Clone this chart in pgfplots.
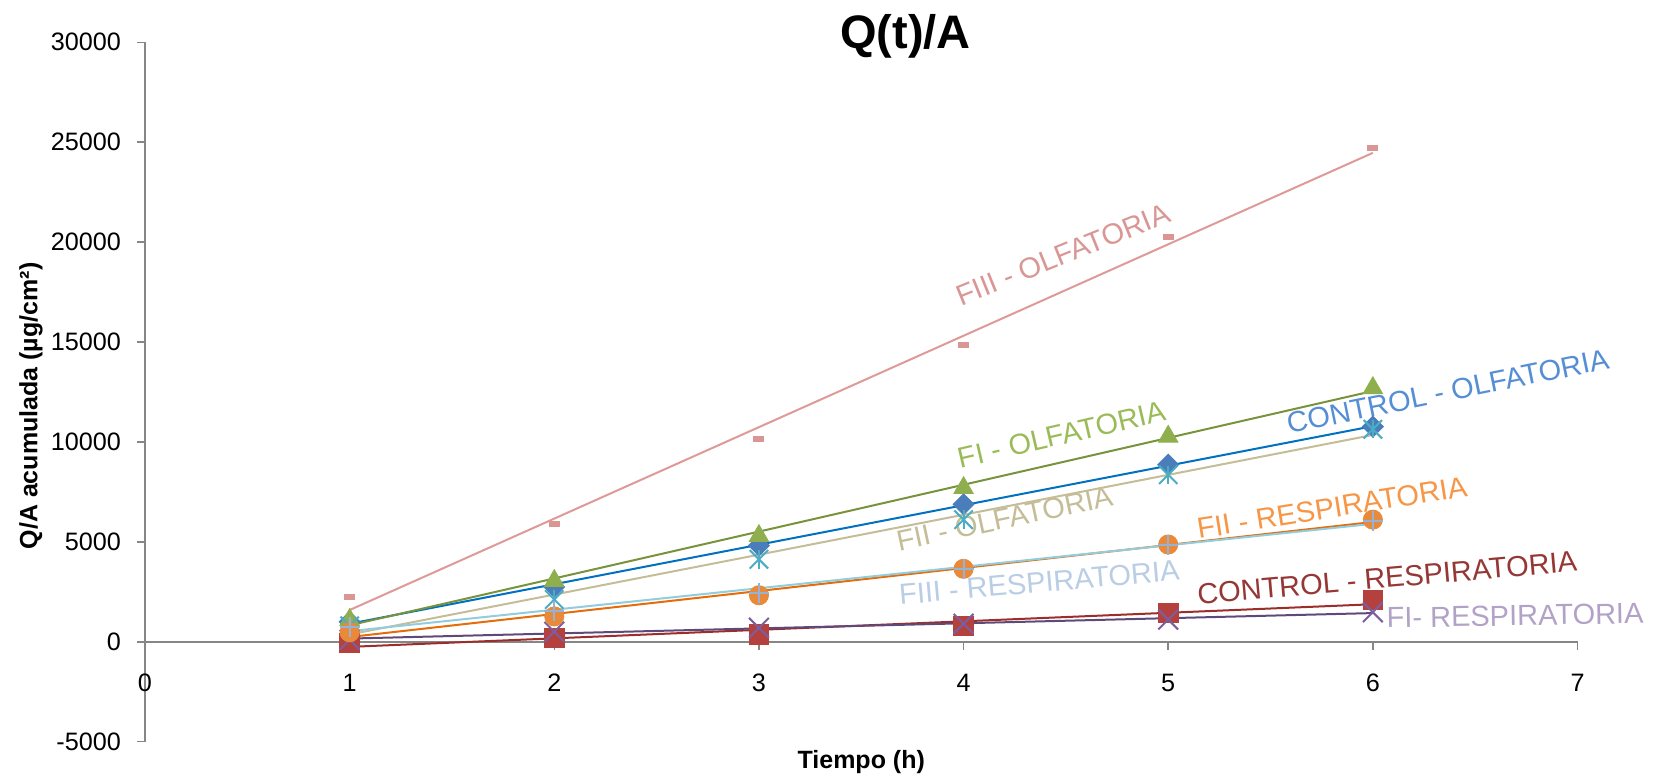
\documentclass[border=0pt]{standalone}
\usepackage{fontspec}
\setmainfont{Liberation Sans}
\usepackage{pgfplots}
\usepackage{pgfplotstable}
\pgfplotsset{compat=1.18}
\definecolor{axisgray}{HTML}{868686}
\definecolor{mdiam}{HTML}{4A7EBB}
\definecolor{msq}{HTML}{B5413F}
\definecolor{mtri}{HTML}{8FAF4E}
\definecolor{mx}{HTML}{7A5FA0}
\definecolor{mstar}{HTML}{4BACC6}
\definecolor{mcirc}{HTML}{E88A3A}
\definecolor{mplus}{HTML}{95B3D7}
\definecolor{mdash}{HTML}{D99694}
\definecolor{tblue}{HTML}{0070C0}
\definecolor{tred}{HTML}{9B2D2A}
\definecolor{tgreen}{HTML}{77933C}
\definecolor{tpurple}{HTML}{5F497A}
\definecolor{ttan}{HTML}{C4BD97}
\definecolor{torange}{HTML}{E46C0A}
\definecolor{tcyan}{HTML}{93CDDD}
\definecolor{tpink}{HTML}{DE9A98}
\definecolor{lblue}{HTML}{558ED5}
\definecolor{lred}{HTML}{953735}
\definecolor{lgreen}{HTML}{9BBB59}
\definecolor{lpurple}{HTML}{B3A2C7}
\definecolor{ltan}{HTML}{C4BD97}
\definecolor{lorange}{HTML}{F79646}
\definecolor{lcyan}{HTML}{B9CDE5}
\definecolor{lpink}{HTML}{D99694}
\pgfplotstableread{
x co cr fo fr ftwoo ftwor fthreer fthreeo
1 1005 -50 1100 100 800 476 750 2250
2 2750 200 3050 500 2116 1270 1550 5900
3 4815 370 5300 700 4127 2328 2450 10159
4 6880 800 7700 900 6111 3651 3650 14868
5 8862 1450 10270 1110 8360 4868 4850 20280
6 10767 2100 12700 1480 10635 6111 6050 24710
}\data
\newcommand\lblfont{\fontsize{14.5}{16}\selectfont}
\begin{document}
\begin{tikzpicture}
\path[use as bounding box] (-72.5pt,-19.65pt) rectangle (757pt,370.85pt);
\begin{axis}[
  width=716.25pt, height=349.7pt, scale only axis,
  xmin=0, xmax=7, ymin=-5000, ymax=30000,
  axis x line=middle, axis y line=left,
  axis line style={draw=axisgray, line width=0.75pt, -},
  xtick={0,1,...,7}, ytick={-5000,0,5000,10000,15000,20000,25000,30000},
  scaled y ticks=false, scaled x ticks=false,
  tick style={draw=axisgray, line width=0.75pt},
  major tick length=4pt, tick align=outside,
  hide obscured x ticks=false,
  ticklabel style={font=\fontsize{12.6}{14}\selectfont},
  xticklabel style={yshift=-8.5pt},
  yticklabel style={xshift=-4.5pt},
  /pgf/number format/assume math mode=true,
  /pgf/number format/1000 sep={},
  clip=false,
  xlabel={\textbf{Tiempo (h)}},
  ylabel={\textbf{Q/A acumulada (µg/cm²)}},
  x label style={at={(axis description cs:0.5,-0.029)}, anchor=center, font=\fontsize{12.5}{14}\selectfont},
  y label style={at={(axis description cs:-0.0796,0.48)}, anchor=center, rotate=0, font=\fontsize{12.5}{14}\selectfont},
]
% markers
\addplot[only marks, mark=square*, mark size=3.7pt, mark options={rotate=45, draw=mdiam, fill=mdiam}] table[x=x,y=co]{\data};
\addplot[only marks, mark=square*, mark size=4.9pt, mark options={draw=msq, fill=msq}] table[x=x,y=cr]{\data};
\addplot[only marks, mark=triangle*, mark size=5.6pt, mark options={draw=mtri, fill=mtri}] table[x=x,y=fo]{\data};
\addplot[only marks, mark=x, mark size=7pt, mark options={draw=mx, line width=1pt}] table[x=x,y=fr]{\data};
\addplot[only marks, mark=x, mark size=6.5pt, mark options={draw=mstar, line width=1pt}] table[x=x,y=ftwoo]{\data};
\addplot[only marks, mark=|, mark size=4.6pt, mark options={draw=mstar, line width=1pt}] table[x=x,y=ftwoo]{\data};
\addplot[only marks, mark=*, mark size=4.8pt, mark options={draw=mcirc, fill=mcirc}] table[x=x,y=ftwor]{\data};
\addplot[only marks, mark=+, mark size=5pt, mark options={draw=mplus, line width=1pt}] table[x=x,y=fthreer]{\data};
\addplot[only marks, mark=-, mark size=2.75pt, mark options={draw=mdash, line width=3pt}] table[x=x,y=fthreeo]{\data};
% trendlines
\addplot[tblue, line width=1pt, no marks] table[x=x,y={create col/linear regression={y=co}}]{\data};
\addplot[tred, line width=1pt, no marks] table[x=x,y={create col/linear regression={y=cr}}]{\data};
\addplot[tgreen, line width=1pt, no marks] table[x=x,y={create col/linear regression={y=fo}}]{\data};
\addplot[tpurple, line width=1pt, no marks] table[x=x,y={create col/linear regression={y=fr}}]{\data};
\addplot[ttan, line width=1pt, no marks] table[x=x,y={create col/linear regression={y=ftwoo}}]{\data};
\addplot[torange, line width=1pt, no marks] table[x=x,y={create col/linear regression={y=ftwor}}]{\data};
\addplot[tcyan, line width=1pt, no marks] table[x=x,y={create col/linear regression={y=fthreer}}]{\data};
\addplot[tpink, line width=1pt, no marks] table[x=x,y={create col/linear regression={y=fthreeo}}]{\data};
% labels
\node[rotate=22, text=lpink, font=\lblfont] at (axis cs:4.486,19375) {FIII - OLFATORIA};
\node[rotate=13, text=lgreen, font=\lblfont] at (axis cs:4.48,10370) {FI - OLFATORIA};
\node[rotate=11.5, text=lblue, font=\lblfont] at (axis cs:6.366,12535) {CONTROL - OLFATORIA};
\node[rotate=12, text=ltan, font=\lblfont] at (axis cs:4.20,6165) {FII - OLFATORIA};
\node[rotate=9, text=lorange, font=\lblfont] at (axis cs:5.80,6715) {FII - RESPIRATORIA};
\node[rotate=5, text=lcyan, font=\lblfont] at (axis cs:4.37,2967) {FIII - RESPIRATORIA};
\node[rotate=5, text=lred, font=\lblfont] at (axis cs:6.07,3200) {CONTROL - RESPIRATORIA};
\node[rotate=1, text=lpurple, font=\lblfont] at (axis cs:6.695,1311) {FI- RESPIRATORIA};
\node[font=\bfseries\fontsize{23.5}{26}\selectfont, anchor=base] at (axis description cs:0.531,0.9918) {Q(t)/A};
\end{axis}
\end{tikzpicture}
\end{document}
